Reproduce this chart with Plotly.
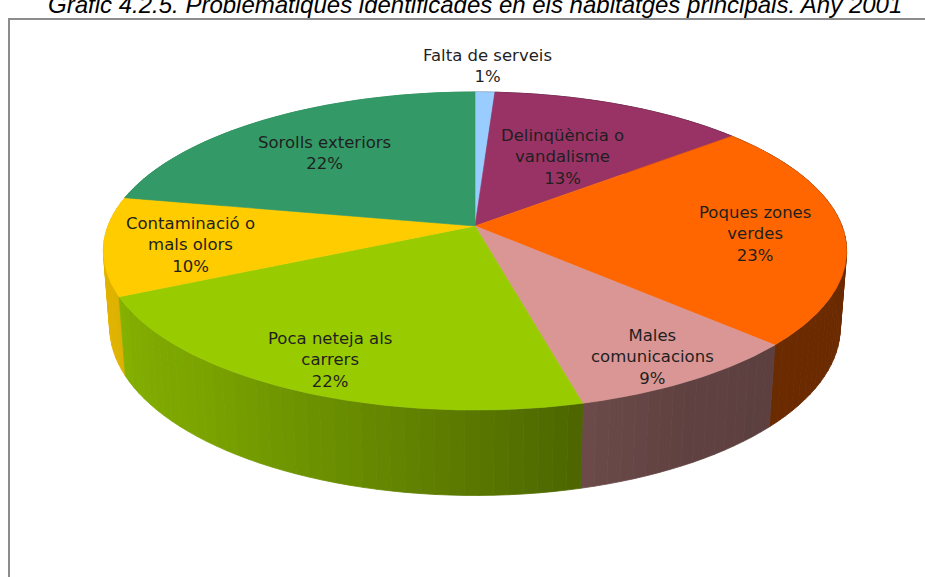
import numpy as np
import plotly.graph_objects as go

# ---------------- data ----------------
categories = ["Falta de serveis", "Delinqüència o vandalisme", "Poques zones verdes",
              "Males comunicacions", "Poca neteja als carrers",
              "Contaminació o mals olors", "Sorolls exteriors"]
label_text = ["Falta de serveis", "Delinqüència o<br>vandalisme", "Poques zones<br>verdes",
              "Males<br>comunicacions", "Poca neteja als<br>carrers",
              "Contaminació o<br>mals olors", "Sorolls exteriors"]
values = [1, 13, 23, 9, 22, 10, 22]
title_text = "Gràfic 4.2.5. Problemàtiques identificades en els habitatges principals. Any 2001"

# ---------------- style / geometry ----------------
colors = ["#99CCFF", "#993366", "#FF6600", "#D99694", "#99CC00", "#FFCC00", "#339966"]
label_radius = [1.27, 0.57, 0.76, 0.84, 0.82, 0.77, 0.7]
CX, CY = 475.0, 226.0      # projected pie centre (pixels)
SCALE = 367.0              # radius scale (pixels)
ELEV = np.radians(25.0)    # view elevation
DIST = 5.76                # perspective distance (in radii)
DEPTH = 0.23               # pie thickness (in radii)


def project(theta_deg, r=1.0, yv=0.0):
    th = np.radians(theta_deg)
    X = r * np.sin(th)
    Z = r * np.cos(th)
    c, s = np.cos(ELEV), np.sin(ELEV)
    ycam = yv * c + Z * s
    dep = -yv * s + Z * c
    f = DIST / (DIST + dep)
    return CX + SCALE * X * f, CY - SCALE * ycam * f


def hex2rgb(h):
    h = h.lstrip("#")
    return tuple(int(h[i:i + 2], 16) for i in (0, 2, 4))


def shade(hexcol, theta):
    k = np.interp(theta % 360, [0, 90, 130, 150, 166, 190, 220, 250, 280, 360],
                  [0.42, 0.42, 0.42, 0.44, 0.5, 0.65, 0.8, 0.88, 0.9, 0.9])
    r, g, b = hex2rgb(hexcol)
    return "rgb(%d,%d,%d)" % (r * k, g * k, b * k)


total = float(sum(values))
cum = np.concatenate([[0.0], np.cumsum(values)]) / total * 360.0

fig = go.Figure()

# ---- side walls (drawn far-to-near) ----
segs = []
for i, v in enumerate(values):
    a0, a1 = cum[i], cum[i + 1]
    n = max(1, int(np.ceil((a1 - a0) / 2.0)))
    edges = np.linspace(a0, a1, n + 1)
    for j in range(n):
        ta = np.linspace(edges[j], edges[j + 1], 4)
        tx, ty = project(ta)
        bx, by = project(ta[::-1], yv=-DEPTH)
        mid = 0.5 * (edges[j] + edges[j + 1])
        segs.append((np.cos(np.radians(mid)), np.concatenate([tx, bx, tx[:1]]),
                     np.concatenate([ty, by, ty[:1]]), shade(colors[i], mid)))
segs.sort(key=lambda s: -s[0])
for _, xs, ys, col in segs:
    fig.add_trace(go.Scatter(x=xs, y=ys, mode="lines", fill="toself", fillcolor=col,
                             line=dict(color=col, width=0.8), hoverinfo="skip",
                             showlegend=False))

# ---- top faces ----
for i, v in enumerate(values):
    ta = np.linspace(cum[i], cum[i + 1], max(3, int((cum[i + 1] - cum[i]) * 2)))
    ax, ay = project(ta)
    xs = np.concatenate([[CX], ax, [CX]])
    ys = np.concatenate([[CY], ay, [CY]])
    fig.add_trace(go.Scatter(x=xs, y=ys, mode="lines", fill="toself", fillcolor=colors[i],
                             line=dict(color=colors[i], width=0.6),
                             name=categories[i], text="%s: %d%%" % (categories[i], v),
                             hoverinfo="text", hoveron="fills", showlegend=False))

# ---- labels ----
for i, v in enumerate(values):
    mid = 0.5 * (cum[i] + cum[i + 1])
    lx, ly = project(mid, r=label_radius[i])
    fig.add_annotation(x=lx, y=ly, xref="x", yref="y", showarrow=False, yshift=-4,
                       text="%s<br>%d%%" % (label_text[i], round(v / total * 100)),
                       font=dict(family="DejaVu Sans", size=16.5, color="#1f1f1f"),
                       align="center", xanchor="center", yanchor="middle")

# ---- title (cut at top as in the source) ----
fig.add_annotation(x=475, y=4, xref="x", yref="y", showarrow=False, text=title_text,
                   font=dict(family="Liberation Sans", size=24, color="#000000",
                             style="italic"),
                   xanchor="center", yanchor="middle")

fig.add_shape(type="rect", xref="x", yref="y", x0=9, x1=930, y0=19, y1=600,
              line=dict(color="#8c8c8c", width=2), fillcolor="rgba(0,0,0,0)",
              layer="below")

fig.update_xaxes(range=[0, 925], visible=False, fixedrange=True)
fig.update_yaxes(range=[577, 0], visible=False, fixedrange=True)
fig.update_layout(width=925, height=577, margin=dict(l=0, r=0, t=0, b=0),
                  paper_bgcolor="white", plot_bgcolor="white", showlegend=False)

fig.write_html("out.html", config={"displayModeBar": False},
               post_script="document.body.style.margin='0px';")
